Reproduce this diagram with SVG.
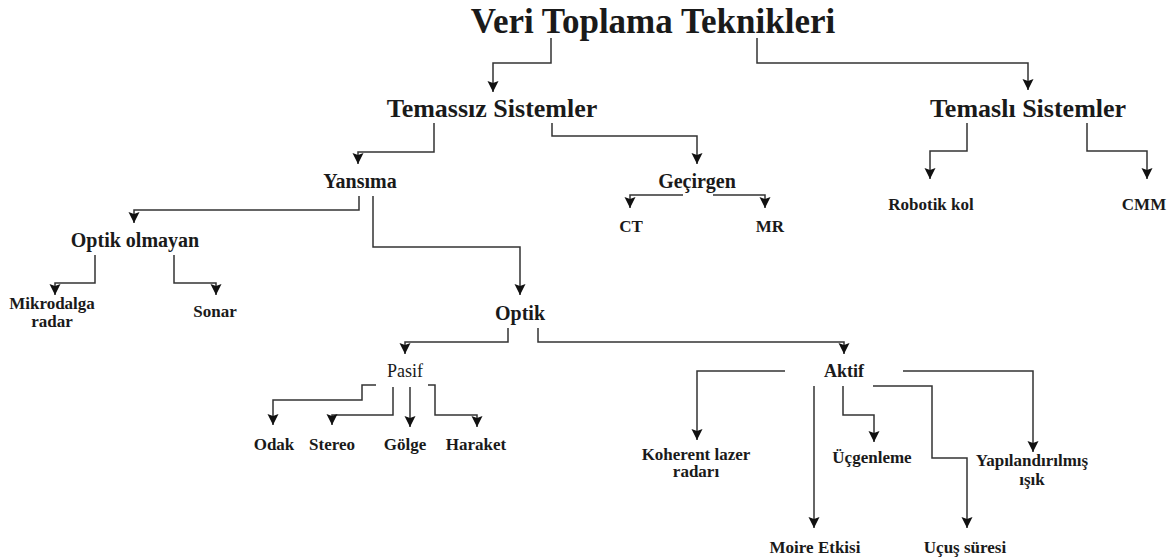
<svg xmlns="http://www.w3.org/2000/svg" width="1174" height="558" viewBox="0 0 1174 558">
<style>
text{font-family:"Liberation Serif","Times New Roman",serif;fill:#1a1a1a;text-anchor:middle;font-weight:bold}
.t0{font-size:35px}
.t1{font-size:26px}
.t2{font-size:20px}
.t3{font-size:17px}
.reg{font-weight:normal;font-size:18px}
.c path{fill:none;stroke:#333;stroke-width:1.5;marker-end:url(#a)}
</style>
<defs>
<marker id="a" markerUnits="userSpaceOnUse" markerWidth="16" markerHeight="16" viewBox="-2 -8 16 16" refX="11" refY="0" orient="auto">
<path d="M0,-5.5 L11,0 L0,5.5 L2,0 z" style="fill:#111;stroke:none"/>
</marker>
</defs>
<rect width="1174" height="558" fill="#fff"/>
<g class="c" id="connectors">
<path d="M551,38 V63 H493 V92"/>
<path d="M757,38 V63 H1028 V90"/>
<path d="M434,123 V152 H358 V164"/>
<path d="M552,123 V136 H697 V164"/>
<path d="M683,195 H630 V208"/>
<path d="M713,195 H765 V208"/>
<path d="M967,123 V151 H930 V179"/>
<path d="M1087,123 V151 H1147 V179"/>
<path d="M359,196 V210 H134 V223"/>
<path d="M373,196 V247 H520 V295"/>
<path d="M95,255 V283 H55 V295"/>
<path d="M174,255 V283 H216 V295"/>
<path d="M508,328 V342 H405 V354"/>
<path d="M538,328 V342 H844 V354"/>
<path d="M376,385 H362 V400 H273 V425"/>
<path d="M393,387 V415 H332 V425"/>
<path d="M410,387 V427"/>
<path d="M428,385 H435 V415 H477 V427"/>
<path d="M785,371 H697 V440"/>
<path d="M814,386 V528"/>
<path d="M843,386 V415 H874 V442"/>
<path d="M873,386 H932 V458 H967 V528"/>
<path d="M903,371 H1033 V452"/>
</g>
<g id="n-title"><text class="t0" x="653" y="33">Veri Toplama Teknikleri</text></g>
<g id="n-temassiz"><text class="t1" x="492" y="117">Temassız Sistemler</text></g>
<g id="n-temasli"><text class="t1" x="1028" y="117">Temaslı Sistemler</text></g>
<g id="n-yansima"><text class="t2" x="360" y="188">Yansıma</text></g>
<g id="n-gecirgen"><text class="t2" x="697" y="188">Geçirgen</text></g>
<g id="n-ct"><text class="t3" x="631" y="232">CT</text></g>
<g id="n-mr"><text class="t3" x="770" y="232">MR</text></g>
<g id="n-robotik"><text class="t3" x="931" y="210">Robotik kol</text></g>
<g id="n-cmm"><text class="t3" x="1144" y="210">CMM</text></g>
<g id="n-optikolmayan"><text class="t2" x="135" y="247">Optik olmayan</text></g>
<g id="n-mikrodalga"><text class="t3" x="52" y="309">Mikrodalga</text><text class="t3" x="52" y="327">radar</text></g>
<g id="n-sonar"><text class="t3" x="215" y="317">Sonar</text></g>
<g id="n-optik"><text class="t2" x="520" y="320">Optik</text></g>
<g id="n-pasif"><text class="reg" x="405" y="377">Pasif</text></g>
<g id="n-aktif"><text class="t3" x="844" y="377" style="font-size:18px">Aktif</text></g>
<g id="n-odak"><text class="t3" x="274" y="450">Odak</text></g>
<g id="n-stereo"><text class="t3" x="332" y="450">Stereo</text></g>
<g id="n-golge"><text class="t3" x="405" y="450">Gölge</text></g>
<g id="n-haraket"><text class="t3" x="476" y="450">Haraket</text></g>
<g id="n-koherent"><text class="t3" x="696" y="460">Koherent lazer</text><text class="t3" x="696" y="477">radarı</text></g>
<g id="n-moire"><text class="t3" x="815" y="553">Moire Etkisi</text></g>
<g id="n-ucgenleme"><text class="t3" x="872" y="463">Üçgenleme</text></g>
<g id="n-ucus"><text class="t3" x="965" y="553">Uçuş süresi</text></g>
<g id="n-yapilandirilmis"><text class="t3" x="1032" y="466">Yapılandırılmış</text><text class="t3" x="1032" y="485">ışık</text></g>
</svg>
